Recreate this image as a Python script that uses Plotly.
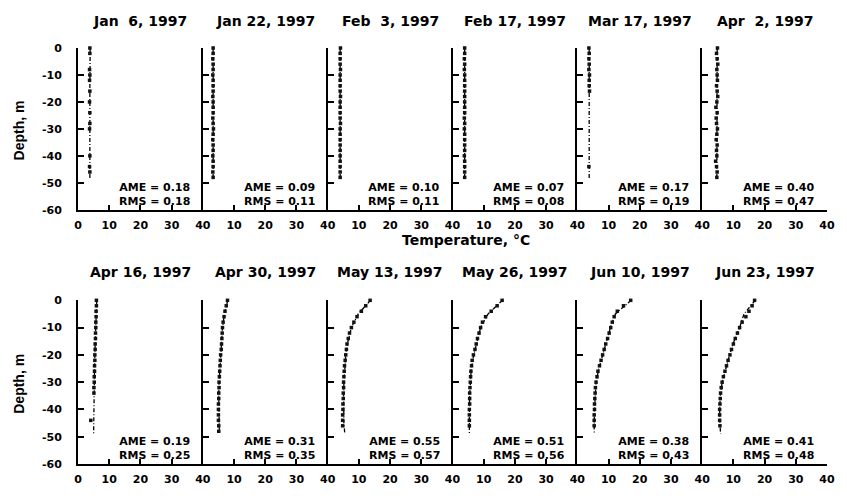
import plotly.graph_objects as go
from plotly.subplots import make_subplots

# ---------------- data ----------------
dates = ["Jan\u00a0 6, 1997", "Jan 22, 1997", "Feb\u00a0 3, 1997", "Feb 17, 1997",
         "Mar 17, 1997", "Apr\u00a0 2, 1997", "Apr 16, 1997", "Apr 30, 1997",
         "May 13, 1997", "May 26, 1997", "Jun 10, 1997", "Jun 23, 1997"]

ame = ["0.18", "0.09", "0.10", "0.07", "0.17", "0.40",
       "0.19", "0.31", "0.55", "0.51", "0.38", "0.41"]
rms = ["0.18", "0.11", "0.11", "0.08", "0.19", "0.47",
       "0.25", "0.35", "0.57", "0.56", "0.43", "0.48"]

obs_depth = [0, -2, -4, -6, -8, -10, -12, -14, -16, -18, -20, -22, -24,
             -26, -28, -30, -32, -34, -36, -38, -40, -42, -44, -46, -48]
model_depth = [0, -5, -10, -15, -20, -25, -30, -35, -40, -45, -49]

# observed temperatures (deg C) at obs_depth, per date
obs_jan06 = [3.8, 3.8, None, None, 3.7, 3.8, 3.7, None, 3.8, None, 3.7, None, 3.8,
             None, 3.8, 3.7, None, None, None, None, 3.8, None, 3.7, 3.8, None]
obs_jan22 = [3.3, 3.3, 3.2, 3.3, 3.3, 3.2, 3.3, 3.3, 3.3, 3.2, 3.3, 3.3, 3.3,
             3.2, 3.3, 3.4, 3.3, 3.2, 3.3, 3.3, 3.2, 3.3, 3.3, 3.2, 3.3]
obs_feb03 = [4.1, 4.0, 4.0, 4.0, 4.1, 4.0, 4.0, 4.0, 4.0, 4.1, 4.0, 4.0, 4.0,
             4.0, 4.1, 4.0, 4.0, 4.0, 4.0, 4.0, 4.0, 4.0, 4.0, 4.0, 4.0]
obs_feb17 = [3.9, 3.9, 3.8, 3.9, 3.8, 3.9, 3.9, 3.9, 3.9, 3.9, 3.9, 3.9, 3.9,
             3.8, 3.9, 3.8, 3.9, 3.9, 3.9, 3.9, 3.8, 3.9, 3.9, 3.9, 3.9]
obs_mar17 = [3.7, 3.8, 3.7, 3.8, 3.7, 3.9, 3.8, 3.8, 3.9, None, None, None, None,
             None, None, None, None, None, None, None, None, None, 3.7, None, None]
obs_apr02 = [4.9, 4.6, 4.8, 5.0, 4.7, 4.8, 4.9, 4.6, 4.8, 5.0, 4.7, 4.4, 4.8,
             4.5, 4.6, 4.9, 4.7, 4.5, 4.8, 4.6, 4.7, 4.3, 4.6, 4.8, 4.7]
obs_apr16 = [5.9, 5.9, 5.8, 5.8, 5.7, 5.7, 5.6, 5.6, 5.5, 5.5, 5.4, 5.4, 5.3,
             5.3, 5.2, 5.2, 5.1, 5.1, None, None, None, None, 4.1, None, None]
obs_apr30 = [7.9, 7.5, 7.1, 6.8, 6.5, 6.3, 6.2, 6.1, 6.0, 5.9, 5.7, 5.6, 5.5,
             5.4, 5.3, 5.2, 5.2, 5.1, 5.1, 5.0, 5.0, 5.0, 5.0, 5.1, 5.1]
obs_may13 = [13.6, 12.2, 10.8, 9.4, 8.4, 7.6, 7.0, 6.6, 6.2, 6.0, 5.8, 5.6, 5.4,
             5.3, 5.2, 5.1, 5.1, 5.0, 5.0, 4.9, 4.9, 4.8, 4.8, 4.8, None]
obs_may26 = [15.9, 14.3, 12.4, 10.6, 9.6, 9.0, 8.5, 8.0, 7.6, 7.2, 6.7, 6.3, 6.1,
             5.9, 5.8, 5.7, 5.6, 5.5, 5.5, 5.5, 5.4, 5.4, 5.4, 5.4, None]
obs_jun10 = [17.1, 14.8, 12.8, 11.8, 11.2, 10.7, 10.2, 9.7, 9.1, 8.6, 8.1, 7.6, 7.1,
             6.6, 6.3, 6.0, 5.8, 5.7, 5.6, 5.5, 5.5, 5.4, 5.4, 5.4, None]
obs_jun23 = [16.8, 16.0, 15.0, 14.0, 12.8, 12.0, 11.3, 10.6, 10.0, 9.4, 8.9, 8.3, 7.8,
             7.3, 6.8, 6.4, 6.1, 5.9, 5.8, 5.7, 5.6, 5.6, 5.6, 5.7, None]

# modelled temperatures (deg C) at model_depth, per date
mod_jan06 = [3.9, 3.8, 3.8, 3.8, 3.8, 3.8, 3.8, 3.8, 3.8, 3.8, 3.8]
mod_jan22 = [3.3, 3.3, 3.3, 3.3, 3.3, 3.3, 3.3, 3.3, 3.3, 3.3, 3.3]
mod_feb03 = [4.0, 4.0, 4.0, 4.0, 4.0, 4.0, 4.0, 4.0, 4.0, 4.0, 4.0]
mod_feb17 = [3.9, 3.9, 3.9, 3.9, 3.9, 3.9, 3.9, 3.9, 3.9, 3.9, 3.9]
mod_mar17 = [3.8, 3.8, 3.8, 3.8, 3.8, 3.8, 3.8, 3.8, 3.8, 3.8, 3.8]
mod_apr02 = [4.8, 4.8, 4.8, 4.8, 4.8, 4.8, 4.7, 4.7, 4.7, 4.7, 4.7]
mod_apr16 = [6.0, 5.8, 5.6, 5.5, 5.4, 5.3, 5.2, 5.2, 5.1, 5.1, 5.0]
mod_apr30 = [8.0, 6.9, 6.3, 6.0, 5.6, 5.4, 5.2, 5.1, 5.1, 5.2, 5.3]
mod_may13 = [13.7, 9.8, 7.6, 6.5, 5.8, 5.4, 5.2, 5.1, 5.1, 5.2, 5.5]
mod_may26 = [16.0, 11.4, 9.0, 7.8, 6.8, 6.0, 5.7, 5.5, 5.4, 5.4, 5.4]
mod_jun10 = [17.2, 12.2, 10.6, 9.4, 8.1, 6.9, 6.0, 5.7, 5.5, 5.4, 5.4]
mod_jun23 = [17.0, 13.4, 12.0, 10.2, 8.8, 7.5, 6.4, 5.8, 5.6, 5.7, 5.9]

obs_all = [obs_jan06, obs_jan22, obs_feb03, obs_feb17, obs_mar17, obs_apr02,
           obs_apr16, obs_apr30, obs_may13, obs_may26, obs_jun10, obs_jun23]
mod_all = [mod_jan06, mod_jan22, mod_feb03, mod_feb17, mod_mar17, mod_apr02,
           mod_apr16, mod_apr30, mod_may13, mod_may26, mod_jun10, mod_jun23]

x_ticks_first = [0, 10, 20, 30, 40]
x_ticks_other = [10, 20, 30, 40]
y_tickvals = [0, -10, -20, -30, -40, -50, -60]
y_ticktext = ["0", "-10", "-20", "-30", "-40", "-50", "-60"]

# ---------------- figure ----------------
W, H = 847, 498
ML, MR, MT, MB = 78, 12, 48, 23
plot_h = H - MT - MB

def py(px):
    return (H - MB - px) / plot_h

row_domains = {1: [py(214), 1.0], 2: [0.0, py(307)]}

fig = make_subplots(rows=2, cols=6, horizontal_spacing=0, vertical_spacing=0.2)

FONT = "DejaVu Sans"
for i in range(12):
    r = i // 6 + 1
    c = i % 6 + 1
    fig.add_trace(go.Scatter(x=mod_all[i], y=model_depth, mode="lines",
                             line=dict(color="black", width=1.3, dash="4px,2px,1px,2px"),
                             cliponaxis=False, showlegend=False, hoverinfo="skip"),
                  row=r, col=c)
    fig.add_trace(go.Scatter(x=obs_all[i], y=obs_depth, mode="markers",
                             marker=dict(symbol="square", size=3.5, color="#111111"),
                             cliponaxis=False, showlegend=False, hoverinfo="skip"),
                  row=r, col=c)
    first = (c == 1)
    tv = x_ticks_first if first else x_ticks_other
    fig.update_xaxes(range=[0, 40], tickvals=tv, ticktext=[str(v) for v in tv],
                     ticks="inside", ticklen=5, tickwidth=2, tickcolor="black",
                     showline=True, linecolor="black", linewidth=2,
                     showgrid=False, zeroline=False,
                     tickfont=dict(family=FONT, size=11, color="black", weight="bold"),
                     ticklabelstandoff=4,
                     row=r, col=c)
    fig.update_yaxes(range=[-60, 0], tickvals=y_tickvals, ticktext=y_ticktext,
                     showticklabels=first,
                     ticks="inside", ticklen=6, tickwidth=2, tickcolor="black",
                     showline=True, linecolor="black", linewidth=2,
                     showgrid=False, zeroline=False,
                     tickfont=dict(family=FONT, size=11, color="black", weight="bold"),
                     ticklabelstandoff=12,
                     domain=row_domains[r],
                     row=r, col=c)
    # title
    fig.add_annotation(text=dates[i], xref="paper", yref="paper",
                       x=(c - 0.5) / 6, y=py(20) if r == 1 else py(278),
                       showarrow=False, xanchor="center", yanchor="middle",
                       font=dict(family=FONT, size=14, color="black", weight="bold"))
    # statistics
    xr = "x" if i == 0 else f"x{i + 1}"
    yr = "y" if i == 0 else f"y{i + 1}"
    fig.add_annotation(text=f"AME = {ame[i]}<br>RMS = {rms[i]}", xref=xr, yref=yr,
                       x=24.5, y=-54.2, showarrow=False, align="center",
                       xanchor="center", yanchor="middle",
                       font=dict(family=FONT, size=11, color="black", weight="bold"))

# axis titles
fig.add_annotation(text="Temperature, °C", xref="paper", yref="paper",
                   x=(470 - ML) / (W - ML - MR), y=py(245), showarrow=False,
                   xanchor="center", yanchor="middle",
                   font=dict(family=FONT, size=14, color="black", weight="bold"))
for yc in (133, 393):
    fig.add_annotation(text="Depth, m", xref="paper", yref="paper",
                       x=(18 - ML) / (W - ML - MR), y=py(yc), showarrow=False,
                       textangle=-90, xanchor="center", yanchor="middle",
                       font=dict(family="Liberation Sans", size=14, color="black", weight="bold"))

fig.update_layout(width=W, height=H, margin=dict(l=ML, r=MR, t=MT, b=MB),
                  paper_bgcolor="white", plot_bgcolor="white", showlegend=False)

fig.write_html("out.html", config={"displayModeBar": False},
               post_script="document.body.style.margin='0px';")
